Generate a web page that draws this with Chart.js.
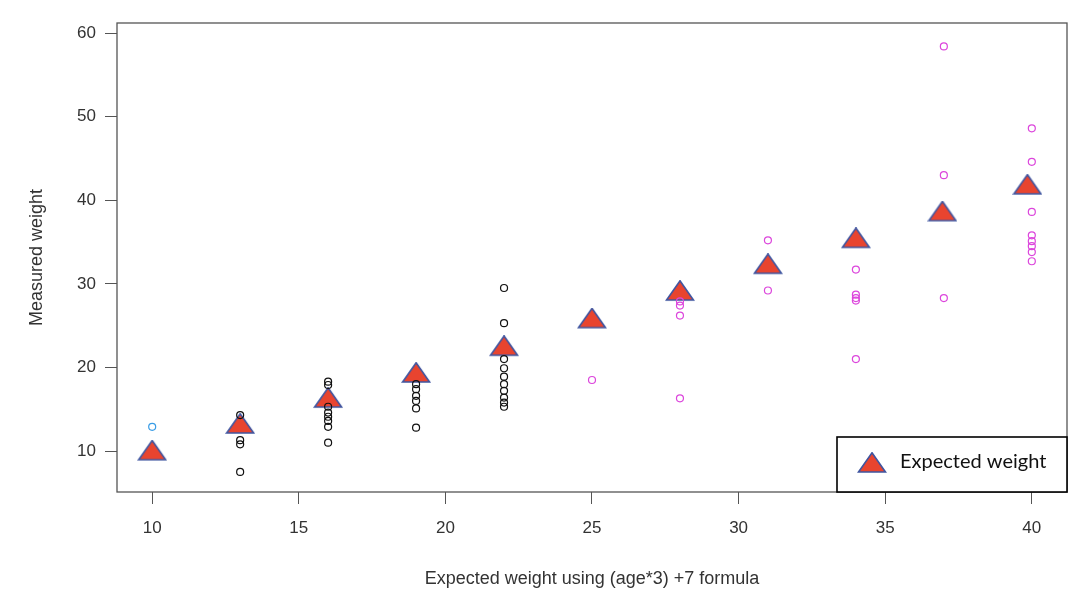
<!DOCTYPE html>
<html>
<head>
<meta charset="utf-8">
<script src="https://cdn.jsdelivr.net/npm/chart.js@4/dist/chart.umd.min.js"></script>
<style>
  html, body { margin: 0; padding: 0; background: #fff; }
  #wrap { width: 1085px; height: 592px; }
</style>
</head>
<body>
<div id="wrap"><canvas id="weightCanvas" width="1085" height="592"></canvas></div>
<script>
// expected weight markers (triangles)
const expectedX = [10, 13, 16, 19, 22, 25, 28, 31, 34, 36.95, 39.85];
const expectedY = [9.8, 13.0, 16.1, 19.1, 22.3, 25.6, 28.9, 32.1, 35.2, 38.4, 41.6];

// measured weights, one array pair per colour
const blueX = [10];
const blueY = [12.9];

const blackX = [13, 13, 13, 13,
                16, 16, 16, 16, 16, 16, 16, 16,
                19, 19, 19, 19, 19, 19,
                22, 22, 22, 22, 22, 22, 22, 22, 22, 22];
const blackY = [14.3, 11.3, 10.8, 7.5,
                18.3, 17.9, 15.3, 14.6, 14.1, 13.6, 12.9, 11.0,
                18.0, 17.4, 16.6, 16.0, 15.1, 12.8,
                29.5, 25.3, 21.0, 19.9, 18.9, 18.0, 17.2, 16.4, 15.8, 15.3];

const pinkX = [25,
               28, 28, 28, 28,
               31, 31,
               34, 34, 34, 34, 34,
               37, 37, 37,
               40, 40, 40, 40, 40, 40, 40, 40];
const pinkY = [18.5,
               27.9, 27.4, 26.2, 16.3,
               35.2, 29.2,
               31.7, 28.7, 28.3, 28.0, 21.0,
               58.4, 43.0, 28.3,
               48.6, 44.6, 38.6, 35.8, 35.1, 34.5, 33.8, 32.7];

const xTickValues = [10, 15, 20, 25, 30, 35, 40];
const yTickValues = [10, 20, 30, 40, 50, 60];

const legendLabel = "Expected weight";

function pairs(xs, ys) {
    return xs.map((x, i) => ({ x: x, y: ys[i] }));
}

let axisColor = "#555555";
let tickFont = { family: "'Liberation Sans', Arial, sans-serif", size: 17 };

// squat triangle marker, apex 13px above the centre, base 7px below
function makeTriangle() {
    let cv = document.createElement("canvas");
    cv.width = 30;
    cv.height = 26;
    let c = cv.getContext("2d");
    c.beginPath();
    c.moveTo(15, 0.8);
    c.lineTo(28.5, 20);
    c.lineTo(1.5, 20);
    c.closePath();
    c.fillStyle = "#e8442f";
    c.fill();
    c.strokeStyle = "#3f55a0";
    c.lineWidth = 1.6;
    c.lineJoin = "miter";
    c.stroke();
    return cv;
}
const triangleMarker = makeTriangle();

// R style box around plot + legend box in lower right corner
const boxPlugin = {
    id: "boxPlugin",
    afterDraw(chart) {
        const c = chart.ctx;
        const a = chart.chartArea;
        c.save();
        c.strokeStyle = axisColor;
        c.lineWidth = 1.3;
        c.strokeRect(a.left, a.top, a.right - a.left, a.bottom - a.top);

        let w = 230, h = 55;
        let lx = a.right - w, ly = a.bottom - h;
        c.fillStyle = "#ffffff";
        c.fillRect(lx, ly, w, h);
        c.strokeStyle = "#000000";
        c.lineWidth = 1.6;
        c.strokeRect(lx, ly, w, h);

        c.drawImage(triangleMarker, lx + 35 - 15, ly + 28 - 13);

        c.fillStyle = "#111111";
        c.font = "20px Lato, 'Noto Sans', sans-serif";
        c.textBaseline = "middle";
        c.fillText(legendLabel, lx + 63, ly + 25);
        c.restore();
    }
};

var weightChart = new Chart(document.getElementById("weightCanvas"), {
    type: "scatter",
    data: {
        datasets: [
            {
                label: "black",
                data: pairs(blackX, blackY),
                pointStyle: "circle",
                pointRadius: 3.5,
                borderColor: "#111111",
                backgroundColor: "rgba(0,0,0,0)",
                borderWidth: 1.2
            },
            {
                label: "blue",
                data: pairs(blueX, blueY),
                pointStyle: "circle",
                pointRadius: 3.5,
                borderColor: "#3a9de6",
                backgroundColor: "rgba(0,0,0,0)",
                borderWidth: 1.2
            },
            {
                label: "pink",
                data: pairs(pinkX, pinkY),
                pointStyle: "circle",
                pointRadius: 3.5,
                borderColor: "#dc46dc",
                backgroundColor: "rgba(0,0,0,0)",
                borderWidth: 1.2
            },
            {
                label: legendLabel,
                data: pairs(expectedX, expectedY),
                pointStyle: triangleMarker,
                pointRadius: 13
            }
        ]
    },
    options: {
        responsive: false,
        animation: false,
        events: [],
        layout: { padding: { top: 23, right: 18, left: 0, bottom: 0 } },
        plugins: {
            legend: { display: false },
            tooltip: { enabled: false }
        },
        scales: {
            x: {
                type: "linear",
                min: 8.8,
                max: 41.2,
                afterFit: s => { s.height = 100; },
                afterBuildTicks: s => { s.ticks = xTickValues.map(v => ({ value: v })); },
                border: { display: false },
                grid: { drawOnChartArea: false, drawTicks: true, tickLength: 12, color: axisColor, lineWidth: 1 },
                ticks: { color: "#333333", font: tickFont, padding: 14, maxRotation: 0 },
                title: {
                    display: true,
                    text: "Expected weight using (age*3) +7 formula",
                    color: "#333333",
                    font: { family: "'Liberation Sans', Arial, sans-serif", size: 18 },
                    padding: { top: 0, bottom: 2 }
                }
            },
            y: {
                type: "linear",
                min: 5.1,
                max: 61.2,
                afterFit: s => { s.width = 117; },
                afterBuildTicks: s => { s.ticks = yTickValues.map(v => ({ value: v })); },
                border: { display: false },
                grid: { drawOnChartArea: false, drawTicks: true, tickLength: 12, color: axisColor, lineWidth: 1 },
                ticks: { color: "#333333", font: tickFont, padding: 9 },
                title: {
                    display: true,
                    text: "Measured weight",
                    color: "#333333",
                    font: { family: "'Liberation Sans', Arial, sans-serif", size: 18 },
                    padding: { top: 26, bottom: 0 }
                }
            }
        }
    },
    plugins: [boxPlugin]
});
</script>
</body>
</html>
